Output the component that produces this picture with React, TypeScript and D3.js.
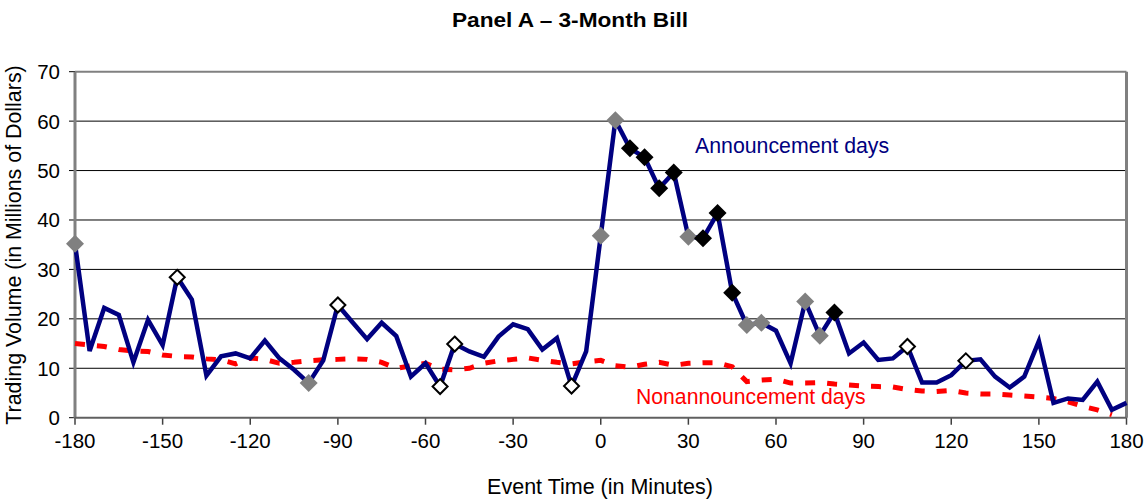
import React from "react";
import * as d3 from "d3";

const minutes: number[] = d3.range(-180, 181, 5);

const announcement: number[] = [
  35.2, 13.5, 22.2, 20.8, 11.2, 19.8, 14.7, 28.4, 23.9, 8.5,
  12.4, 13.0, 12.0, 15.6, 12.0, 9.7, 7.0, 11.6, 22.8, 19.3,
  15.9, 19.2, 16.5, 8.3, 11.0, 6.3, 14.9, 13.4, 12.3, 16.4,
  18.9, 17.9, 13.8, 16.1, 6.4, 13.4, 36.8, 60.2, 54.5, 52.7,
  46.4, 49.6, 36.6, 36.3, 41.4, 25.3, 18.75, 19.2, 17.6, 11.0,
  23.5, 16.6, 21.3, 13.0, 15.2, 11.7, 12.0, 14.4, 7.1, 7.1,
  8.6, 11.5, 11.8, 8.3, 6.1, 8.3, 15.5, 3.0, 3.9, 3.6,
  7.3, 1.6, 3.0,
];

const nonannouncement: number[] = [
  15.0, 14.7, 14.4, 13.8, 13.5, 13.4, 12.7, 12.4, 12.3, 11.9,
  11.7, 10.9, 12.1, 11.8, 11.0, 11.2, 11.5, 11.7, 11.8, 11.9,
  11.8, 11.2, 10.0, 10.5, 11.0, 9.8, 9.7, 10.0, 11.0, 11.5,
  11.8, 12.1, 11.6, 11.2, 10.9, 11.3, 11.6, 10.5, 10.2, 10.8,
  11.2, 10.6, 11.0, 11.1, 11.1, 10.3, 7.3, 7.6, 7.8, 7.0,
  7.0, 7.1, 6.8, 6.6, 6.4, 6.3, 6.2, 5.7, 5.4, 5.3,
  5.5, 5.0, 4.8, 4.8, 4.6, 4.4, 4.2, 3.9, 3.2, 2.3,
  1.6, 0.6,
];

// marker categories by event minute
const grayMarkers: number[] = [-180, -100, 0, 5, 30, 50, 55, 70, 75];
const blackMarkers: number[] = [10, 15, 20, 25, 35, 40, 45, 80];
const openMarkers: number[] = [-145, -90, -55, -50, -10, 105, 125];

const xTicks: number[] = d3.range(-180, 181, 30);
const yTicks: number[] = d3.range(0, 71, 10);

const title = "Panel A \u2013 3-Month Bill";
const xTitle = "Event Time (in Minutes)";
const yTitle = "Trading Volume (in Millions of Dollars)";
const annLabel = "Announcement days";
const nonLabel = "Nonannouncement days";

const W = 1148;
const H = 501;
const M = { left: 75, right: 21.5, top: 71.7, bottom: 83.3 };
const FONT = "'Liberation Sans', Arial, sans-serif";

export default function App() {
  const x = d3.scaleLinear().domain([-180, 180]).range([M.left, W - M.right]);
  const y = d3.scaleLinear().domain([0, 70]).range([H - M.bottom, M.top]);

  const annPts: [number, number][] = minutes.map((m, i) => [m, announcement[i]]);
  const nonPts: [number, number][] = nonannouncement.map((v, i) => [minutes[i], v]);

  const line = d3
    .line<[number, number]>()
    .x((d) => x(d[0]))
    .y((d) => y(d[1]));

  const valAt = (m: number) => announcement[minutes.indexOf(m)];
  const diamond = (cx: number, cy: number, r: number) =>
    `M${cx},${cy - r}L${cx + r},${cy}L${cx},${cy + r}L${cx - r},${cy}Z`;

  const x0 = x(-180);
  const x1 = x(180);
  const yb = y(0);
  const yt = y(70);

  return (
    <svg
      width={W}
      height={H}
      style={{ position: "absolute", left: 0, top: 0, background: "#fff" }}
      fontFamily={FONT}
    >
      <rect x={0} y={0} width={W} height={H} fill="#fff" />
      <text x={570} y={27} textAnchor="middle" fontSize={21} fontWeight="bold" fill="#000" textLength={236} lengthAdjust="spacingAndGlyphs">
        {title}
      </text>

      {/* gridlines */}
      {yTicks
        .filter((t) => t > 0 && t < 70)
        .map((t) => (
          <line key={"g" + t} x1={x0} x2={x1} y1={y(t)} y2={y(t)} stroke="#000" strokeWidth={1} />
        ))}

      {/* plot border */}
      <line x1={x0} x2={x1} y1={yt} y2={yt} stroke="#808080" strokeWidth={2} />
      <line x1={x1} x2={x1} y1={yt} y2={yb} stroke="#808080" strokeWidth={3} />

      {/* y ticks and labels */}
      {yTicks.map((t) => (
        <g key={"y" + t}>
          <line x1={x0 - 6} x2={x0} y1={y(t)} y2={y(t)} stroke="#000" strokeWidth={1} />
          <text x={60} y={y(t)} dy="0.36em" textAnchor="end" fontSize={20.5} fill="#000">
            {t}
          </text>
        </g>
      ))}

      {/* x ticks and labels */}
      {xTicks.map((t) => (
        <g key={"x" + t}>
          <line x1={x(t)} x2={x(t)} y1={yb} y2={yb + 7} stroke="#404040" strokeWidth={1.5} />
          <text x={x(t)} y={448} textAnchor="middle" fontSize={20.5} fill="#000">
            {t}
          </text>
        </g>
      ))}

      {/* axes */}
      <line x1={x0} x2={x0} y1={yt} y2={yb} stroke="#808080" strokeWidth={3} />
      <line x1={x0} x2={x1} y1={yb} y2={yb} stroke="#606060" strokeWidth={2} />

      {/* nonannouncement dashed */}
      <path
        d={line(nonPts) || ""}
        fill="none"
        stroke="#ff0000"
        strokeWidth={5}
        strokeDasharray="10,12"
      />

      {/* announcement line */}
      <path d={line(annPts) || ""} fill="none" stroke="#000080" strokeWidth={4.5} strokeLinejoin="miter" />

      {/* markers */}
      {grayMarkers.map((m) => (
        <path key={"gm" + m} d={diamond(x(m), y(valAt(m)), 9)} fill="#808080" />
      ))}
      {blackMarkers.map((m) => (
        <path key={"bm" + m} d={diamond(x(m), y(valAt(m)), 9)} fill="#000" />
      ))}
      {openMarkers.map((m) => (
        <path
          key={"om" + m}
          d={diamond(x(m), y(valAt(m)), 7.5)}
          fill="#fff"
          stroke="#000"
          strokeWidth={2}
        />
      ))}

      {/* series labels */}
      <text x={695} y={153} fontSize={21.3} fill="#000080">
        {annLabel}
      </text>
      <text x={636} y={404} fontSize={21.2} fill="#ff0000">
        {nonLabel}
      </text>

      {/* axis titles */}
      <text x={600} y={494} textAnchor="middle" fontSize={21.5} fill="#000">
        {xTitle}
      </text>
      <text
        transform={`translate(21,245) rotate(-90)`}
        textAnchor="middle"
        fontSize={21.4}
        fill="#000"
      >
        {yTitle}
      </text>
    </svg>
  );
}
